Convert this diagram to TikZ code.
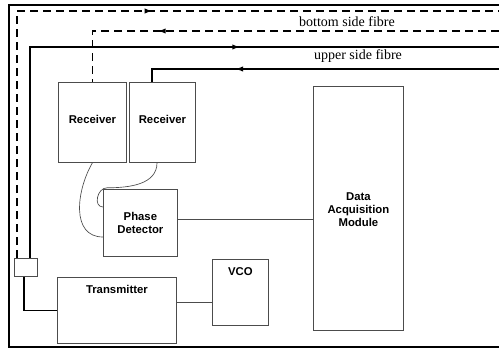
\documentclass[tikz,border=0pt]{standalone}
\usepackage{fontspec}
\setmainfont{Liberation Serif}
\newfontfamily\blockfont{Liberation Sans}
\usetikzlibrary{arrows.meta,decorations.markings}

\tikzset{
  block/.style={draw=black!70, line width=0.6pt, fill=white, inner sep=0pt,
    anchor=north west, align=center,
    font=\blockfont\bfseries\fontsize{8.5}{10}\selectfont},
  toptext/.style={label={[anchor=north, yshift=-4pt, inner sep=2pt,
    font=\blockfont\bfseries\fontsize{8.5}{10}\selectfont]north:#1}},
  fibre/.style={line width=1.2pt, dash pattern=on 6pt off 3.75pt},
  fibresolid/.style={line width=1.2pt},
  wire/.style={draw=black!70, line width=0.5pt},
  arrowat/.style={postaction={decorate}, decoration={markings,
    mark=at position #1 with {\arrow{Latex[length=6pt,width=4pt]}}}},
  fibrelabel/.style={font=\fontsize{10.5}{12}\selectfont, inner sep=1pt}
}

\begin{document}
\begin{tikzpicture}[x=0.75pt, y=-0.75pt]
  \useasboundingbox (0,0) rectangle (499,349);

  % frame
  \draw[line width=2pt] (499,5) -- (9,5) -- (9,347) -- (499,347);

  % blocks
  \node[block, minimum width=51pt, minimum height=60pt, text depth=4pt] (rx1) at (58,82) {Receiver};
  \node[block, minimum width=49.5pt, minimum height=60pt, text depth=4pt] (rx2) at (129,82) {Receiver};
  \node[block, minimum width=55.5pt, minimum height=50.25pt] (pd) at (103,189) {Phase\\Detector};
  \node[block, minimum width=67.5pt, minimum height=183pt] (daq) at (313,86) {\mbox{}\\[-2.5pt]Data\\Acquisition\\Module};
  \node[block, minimum width=89.25pt, minimum height=49.5pt, toptext=Transmitter] (tx) at (57,277) {};
  \node[block, minimum width=42pt, minimum height=49.5pt, toptext=VCO] (vco) at (212,259) {};
  \node[block, minimum width=17.25pt, minimum height=13.5pt] (cpl) at (14,258) {};

  % fibre ends
  \coordinate (bOut) at (499,11);
  \coordinate (bIn) at (499,31);
  \coordinate (uOut) at (499,47);
  \coordinate (uIn) at (499,69);

  % fibres
  \draw[fibre, arrowat=287pt] ([xshift=2.25pt]cpl.north west) |- (bOut);
  \draw[fibre, arrowat=256pt] (bIn) -| (rx1.north);
  \draw[fibresolid, arrowat=316pt] ([xshift=12pt]cpl.north west) |- (uOut);
  \draw[fibresolid, arrowat=198pt] (uIn) -| ([xshift=17.25pt]rx2.north west);
  \draw[fibresolid] ([xshift=7.5pt]cpl.south west) |- (tx.west);

  \node[fibrelabel] (blab) at (347,22) {bottom side fibre};
  \node[fibrelabel] (ulab) at (358,56) {upper side fibre};

  % wires
  \draw[wire] (rx1.south) to[out=-120, in=180, looseness=1.1] ([yshift=-36pt]pd.north west);
  \draw[wire] ([xshift=21pt]rx2.south west) to[out=-90, in=0] ++(-50,25)
    to[out=180, in=180, looseness=1.3] ([yshift=-13.5pt]pd.north west);
  \draw[wire] ([yshift=3pt]pd.east) -- ([yshift=3pt]pd.east -| daq.west);
  \draw[wire] ([yshift=6pt]tx.east) -- ([yshift=6pt]tx.east -| vco.west);
\end{tikzpicture}
\end{document}
